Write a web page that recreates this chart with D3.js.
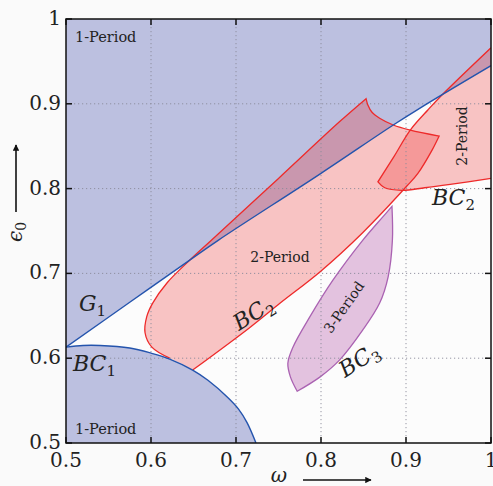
<!DOCTYPE html>
<html>
<head>
<meta charset="utf-8">
<script src="https://cdn.jsdelivr.net/npm/d3@7"></script>
<style>
  html, body { margin: 0; padding: 0; background: #fafafa; }
  svg { display: block; }
</style>
</head>
<body>
<div class="container"></div>
<script>
// data (omega, epsilon0)
const xTicks = [0.5, 0.6, 0.7, 0.8, 0.9, 1];
const yTicks = [0.5, 0.6, 0.7, 0.8, 0.9, 1];
const gridVals = [0.6, 0.7, 0.8, 0.9];

const g1Curve = [[0.5, 0.613], [0.575, 0.666], [0.646, 0.716], [0.679, 0.739], [0.8, 0.818], [0.885, 0.875], [0.9165, 0.895], [1.0, 0.945]];
const bc1Curve = [[0.5, 0.613], [0.52, 0.615], [0.54, 0.615], [0.575, 0.612], [0.6, 0.606], [0.622, 0.599], [0.649, 0.586], [0.667, 0.574], [0.69, 0.554], [0.703, 0.54], [0.713, 0.524], [0.7235, 0.5]];

// 2-Period region (left band)
const bc2UpperEdge = [[0.622, 0.6], [0.601, 0.613], [0.593, 0.63], [0.595, 0.649], [0.602, 0.665], [0.619, 0.689], [0.646, 0.716], [0.672, 0.740], [0.75, 0.812], [0.822, 0.879], [0.853, 0.906]];
const bc2Cusp = [[0.853, 0.906], [0.855, 0.899], [0.86, 0.89], [0.869, 0.883], [0.885, 0.875], [0.905, 0.869], [0.939, 0.862]];
const bc2LowerEdge = [[0.939, 0.862], [0.931, 0.846], [0.914, 0.818], [0.901, 0.803], [0.849, 0.748], [0.799, 0.702], [0.752, 0.665], [0.716, 0.636], [0.649, 0.586]];
const bc2Foot = [[0.649, 0.586], [0.635, 0.594], [0.622, 0.6]];

// 2-Period region (right)
const bc2bLeftEdge = [[1.0, 0.966], [0.942, 0.91], [0.926, 0.893], [0.905, 0.869], [0.886, 0.838], [0.867, 0.808]];
const bc2bBottom = [[0.867, 0.808], [0.875, 0.801], [0.895, 0.798], [0.922, 0.801], [0.952, 0.805], [1.0, 0.812]];

// 3-Period region
const bc3Right = [[0.8835, 0.779], [0.884, 0.739], [0.879, 0.696], [0.869, 0.665], [0.849, 0.633], [0.822, 0.598], [0.799, 0.578], [0.772, 0.561]];
const bc3Left = [[0.772, 0.561], [0.764, 0.578], [0.761, 0.594], [0.767, 0.613], [0.787, 0.649], [0.814, 0.692], [0.849, 0.739], [0.873, 0.767], [0.8835, 0.779]];

const width = 493;
const height = 486;
const plotL = 66, plotR = 491, plotT = 19, plotB = 443;

const x = d3.scaleLinear().domain([0.5, 1]).range([plotL, plotR]);
const y = d3.scaleLinear().domain([0.5, 1]).range([plotB, plotT]);

const smooth = d3.line().x(d => x(d[0])).y(d => y(d[1])).curve(d3.curveCatmullRom.alpha(0.5));
const straight = d3.line().x(d => x(d[0])).y(d => y(d[1]));

// chain several pieces into one path
const joinPath = (pieces, close) => {
  const s = pieces.map((p, i) => {
    const d = (p.lin ? straight : smooth)(p.pts);
    return i === 0 ? d : "L" + d.slice(1);
  }).join("");
  return close ? s + "Z" : s;
};

const svg = d3.select(".container")
  .append("svg")
  .attr("width", width)
  .attr("height", height)
  .attr("viewBox", `0 0 ${width} ${height}`);

svg.append("style")
  .text('text { font-family: "DejaVu Serif", serif; fill: #222; }');

const defs = svg.append("defs");
defs.append("clipPath")
  .attr("id", "plot")
  .append("rect")
  .attr("x", plotL)
  .attr("y", plotT)
  .attr("width", plotR - plotL)
  .attr("height", plotB - plotT);

svg.append("rect")
  .attr("x", plotL)
  .attr("y", plotT)
  .attr("width", plotR - plotL)
  .attr("height", plotB - plotT)
  .attr("fill", "#fcfcfc");

const plot = svg.append("g").attr("clip-path", "url(#plot)");

const blueFill = "#bcc0e0";
const blueLine = "#2454ad";
const redLine = "#ee2a2a";
const pinkFill = "rgba(236,40,40,0.27)";

// 1-Period regions
plot.append("path")
  .attr("d", joinPath([{ pts: g1Curve }, { pts: [[1, 0.945], [1, 1], [0.5, 1], [0.5, 0.613]], lin: true }], true))
  .attr("fill", blueFill);
plot.append("path")
  .attr("d", joinPath([{ pts: bc1Curve }, { pts: [[0.7235, 0.5], [0.5, 0.5], [0.5, 0.613]], lin: true }], true))
  .attr("fill", blueFill);

// 2-Period regions
plot.append("path")
  .attr("d", joinPath([{ pts: bc2UpperEdge }, { pts: bc2Cusp }, { pts: bc2LowerEdge }, { pts: bc2Foot }], true))
  .attr("fill", pinkFill);
plot.append("path")
  .attr("d", joinPath([{ pts: bc2bLeftEdge }, { pts: bc2bBottom }, { pts: [[1, 0.812], [1.01, 0.812], [1.01, 0.966], [1, 0.966]], lin: true }], true))
  .attr("fill", pinkFill);

// 3-Period region
plot.append("path")
  .attr("d", joinPath([{ pts: bc3Right }, { pts: bc3Left }], true))
  .attr("fill", "#e3c2df")
  .attr("stroke", "#aa62b2")
  .attr("stroke-width", 1.3);

// grid
gridVals.forEach(v => {
  plot.append("line")
    .attr("x1", x(v)).attr("x2", x(v))
    .attr("y1", plotT).attr("y2", plotB)
    .attr("stroke", "#8a8a9a").attr("stroke-width", 0.9)
    .attr("stroke-dasharray", "1.2,2.8");
  plot.append("line")
    .attr("x1", plotL).attr("x2", plotR)
    .attr("y1", y(v)).attr("y2", y(v))
    .attr("stroke", "#8a8a9a").attr("stroke-width", 0.9)
    .attr("stroke-dasharray", "1.2,2.8");
});

// boundary curves
plot.append("path")
  .attr("d", joinPath([{ pts: bc2UpperEdge }, { pts: bc2Cusp }, { pts: bc2LowerEdge }], false))
  .attr("fill", "none").attr("stroke", redLine).attr("stroke-width", 1.3);
plot.append("path")
  .attr("d", joinPath([{ pts: bc2bLeftEdge }, { pts: bc2bBottom }], false))
  .attr("fill", "none").attr("stroke", redLine).attr("stroke-width", 1.3);
plot.append("path")
  .attr("d", smooth(g1Curve))
  .attr("fill", "none").attr("stroke", blueLine).attr("stroke-width", 1.4);
plot.append("path")
  .attr("d", smooth(bc1Curve))
  .attr("fill", "none").attr("stroke", blueLine).attr("stroke-width", 1.4);

// region labels
const label = (txt, px, py, size, rot) => {
  plot.append("text")
    .attr("x", px).attr("y", py)
    .attr("transform", rot ? `rotate(${rot},${px},${py})` : null)
    .attr("text-anchor", "middle")
    .style("font-size", size + "px")
    .attr("fill", "#333")
    .text(txt);
};
const mathLabel = (main, sub, px, py, rot) => {
  const t = plot.append("text")
    .attr("x", px).attr("y", py)
    .attr("transform", rot ? `rotate(${rot},${px},${py})` : null)
    .attr("text-anchor", "start")
    .style("font-size", "22px");
  t.append("tspan").style("font-style", "italic").text(main);
  t.append("tspan").style("font-size", "15px").attr("dy", 5).text(sub);
};

plot.append("text").attr("x", 75).attr("y", 42).style("font-size", "14.5px").attr("fill", "#333").text("1-Period");
plot.append("text").attr("x", 75).attr("y", 434).style("font-size", "14.5px").attr("fill", "#333").text("1-Period");
label("2-Period", 280, 262, 14, 0);
label("3-Period", 348, 310, 14, -55);
label("2-Period", 467, 136, 14, -90);
mathLabel("G", "1", 79, 311, 0);
mathLabel("BC", "1", 73, 371, 0);
mathLabel("BC", "2", 239, 331, -32);
mathLabel("BC", "3", 345, 378, -33);
mathLabel("BC", "2", 432, 205, 0);

// ticks, inward on all sides
const tickLen = 6;
xTicks.forEach(v => {
  svg.append("line").attr("x1", x(v)).attr("x2", x(v)).attr("y1", plotB).attr("y2", plotB - tickLen)
    .attr("stroke", "#111").attr("stroke-width", 1.5);
  svg.append("line").attr("x1", x(v)).attr("x2", x(v)).attr("y1", plotT).attr("y2", plotT + tickLen)
    .attr("stroke", "#111").attr("stroke-width", 1.5);
  svg.append("text")
    .attr("x", x(v)).attr("y", 467)
    .attr("text-anchor", "middle")
    .style("font-size", "20px")
    .text(v === 1 ? "1" : v.toFixed(1));
});
yTicks.forEach(v => {
  svg.append("line").attr("x1", plotL).attr("x2", plotL + tickLen).attr("y1", y(v)).attr("y2", y(v))
    .attr("stroke", "#111").attr("stroke-width", 1.5);
  svg.append("line").attr("x1", plotR).attr("x2", plotR - tickLen).attr("y1", y(v)).attr("y2", y(v))
    .attr("stroke", "#111").attr("stroke-width", 1.5);
  svg.append("text")
    .attr("x", 61).attr("y", y(v) + 6)
    .attr("text-anchor", "end")
    .style("font-size", "20px")
    .text(v === 1 ? "1" : v.toFixed(1));
});

// frame
svg.append("rect")
  .attr("x", plotL).attr("y", plotT)
  .attr("width", plotR - plotL).attr("height", plotB - plotT)
  .attr("fill", "none").attr("stroke", "#111").attr("stroke-width", 1.5);

// axis labels with arrows
const arrowHead = defs.append("marker")
  .attr("id", "head")
  .attr("viewBox", "0 0 10 10")
  .attr("refX", 9).attr("refY", 5)
  .attr("markerWidth", 7).attr("markerHeight", 4)
  .attr("markerUnits", "strokeWidth")
  .attr("orient", "auto");
arrowHead.append("path").attr("d", "M0,0L10,5L0,10Z").attr("fill", "#111");

svg.append("line").attr("x1", 16).attr("x2", 16).attr("y1", 212).attr("y2", 145)
  .attr("stroke", "#111").attr("stroke-width", 1.6).attr("marker-end", "url(#head)");
svg.append("text")
  .attr("transform", "translate(22,232) rotate(-90)")
  .attr("text-anchor", "middle")
  .style("font-size", "20px")
  .call(t => {
    t.append("tspan").style("font-style", "italic").text("ϵ");
    t.append("tspan").style("font-size", "14px").attr("dy", 4).text("0");
  });

svg.append("text")
  .attr("x", 279).attr("y", 482)
  .attr("text-anchor", "middle")
  .style("font-size", "20px")
  .style("font-style", "italic")
  .text("ω");
svg.append("line").attr("x1", 303).attr("x2", 371).attr("y1", 480).attr("y2", 480)
  .attr("stroke", "#111").attr("stroke-width", 1.6).attr("marker-end", "url(#head)");
</script>
</body>
</html>
